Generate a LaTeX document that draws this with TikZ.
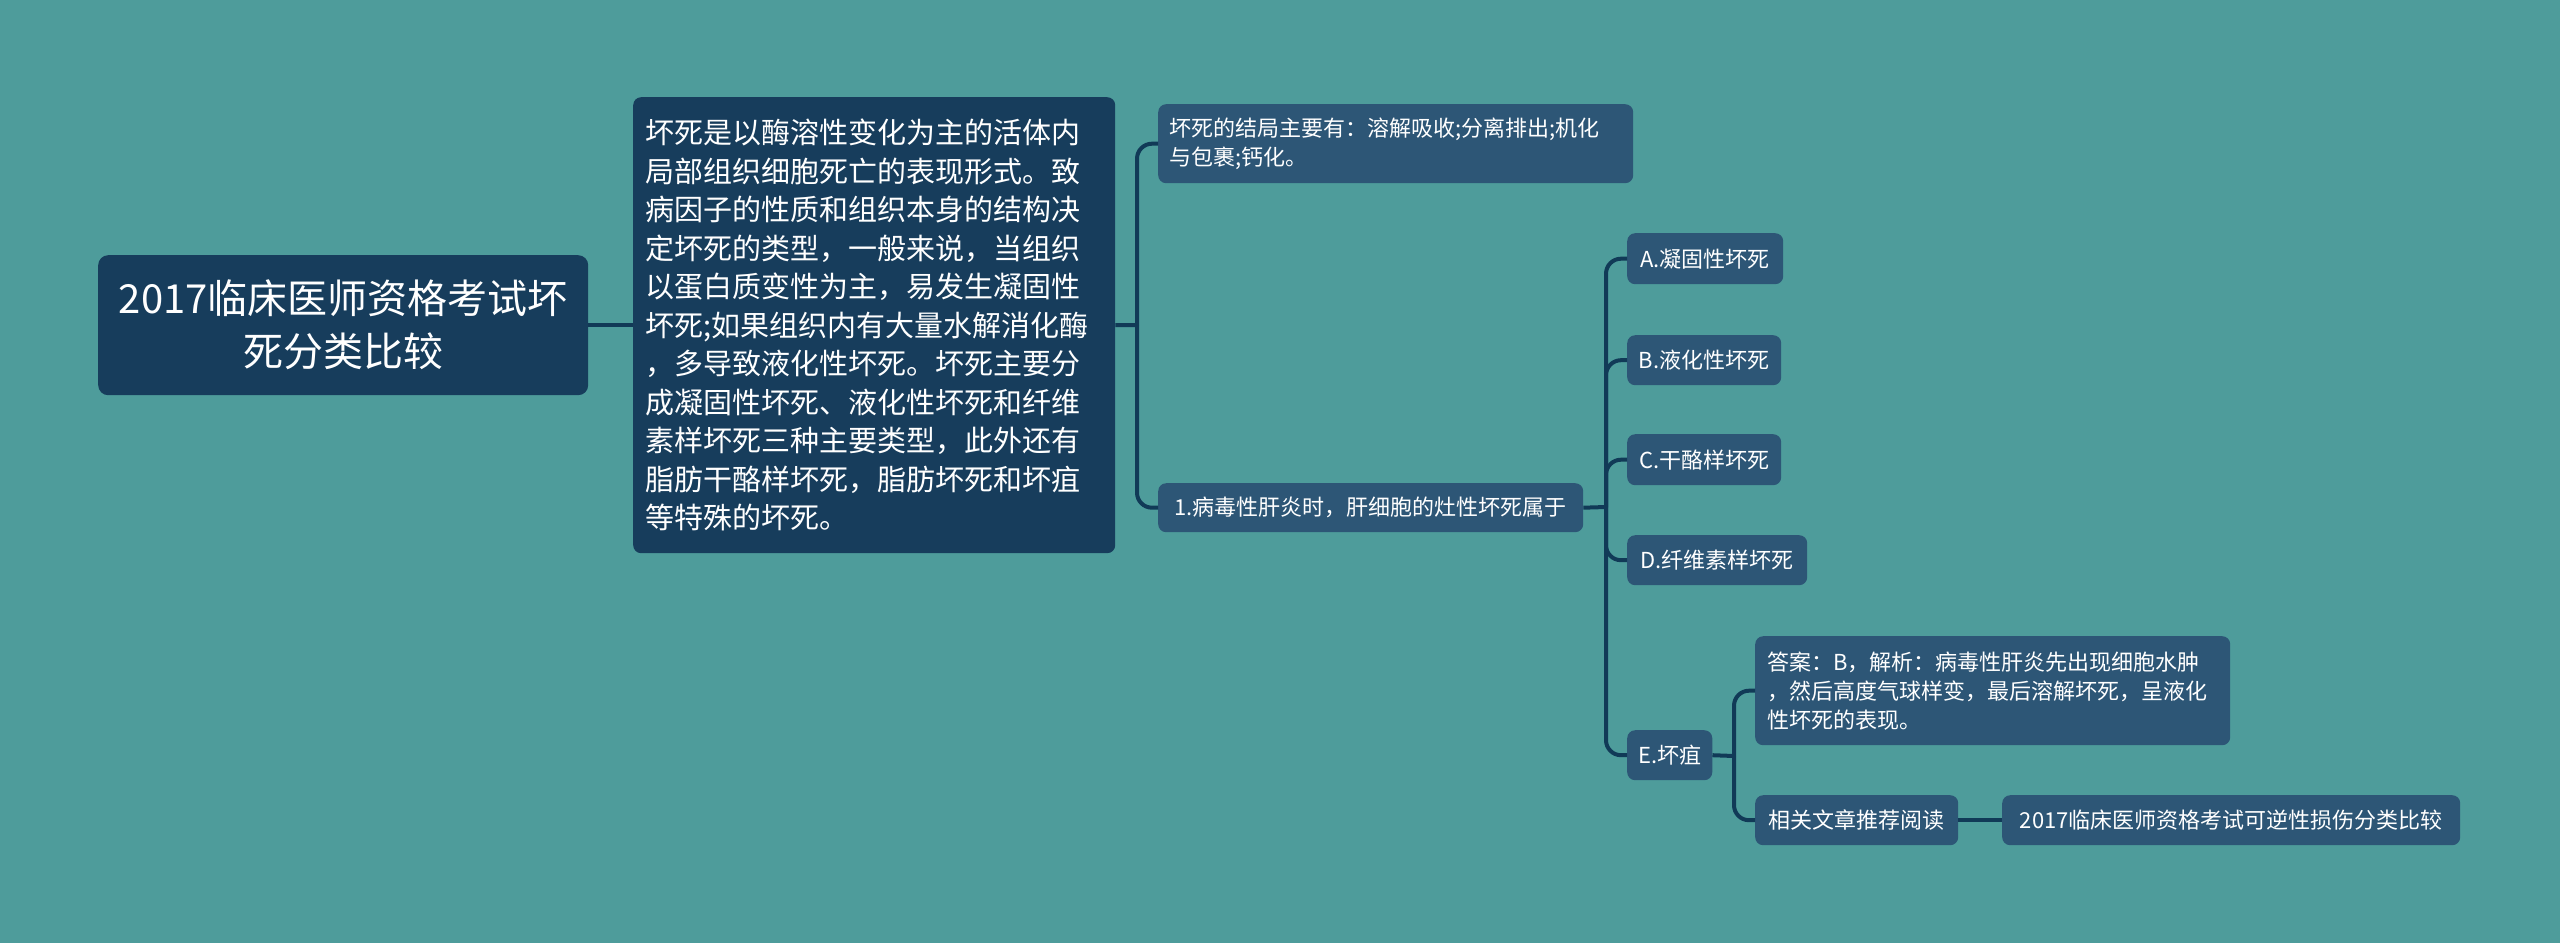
\documentclass[tikz,border=0pt]{standalone}
\usepackage{fontspec}
\newfontfamily\cjk{Noto Sans CJK SC}
\definecolor{bgc}{HTML}{4E9C9B}
\definecolor{darkc}{HTML}{173D5C}
\definecolor{midc}{HTML}{2D5676}
\definecolor{linec}{HTML}{113A57}
\tikzset{
  box/.style={anchor=north west, fill=midc, text=white, rounded corners=8pt, inner xsep=11pt, inner ysep=4pt,
    font=\cjk\fontsize{22}{29}\selectfont},
  bigbox/.style={box, fill=darkc},
  conn/.style={draw=linec, line width=4pt},
  elbow/.style={conn, rounded corners=15pt},
}
\begin{document}
\begin{tikzpicture}[x=1pt,y=-1pt]
\useasboundingbox[fill=bgc] (0,0) rectangle (2560,943);
% nodes
\node[bigbox, minimum width=490pt, minimum height=140pt, align=center, rounded corners=10pt,
  font=\cjk\fontsize{40}{53}\selectfont] (root) at (98,255) {2017临床医师资格考试坏\\死分类比较};
\node[bigbox, minimum width=482pt, minimum height=456pt, text width=458pt, align=left,
  font=\cjk\fontsize{29}{38.5}\selectfont] (main) at (633,97)
  {坏死是以酶溶性变化为主的活体内\\局部组织细胞死亡的表现形式。致\\病因子的性质和组织本身的结构决\\定坏死的类型，一般来说，当组织\\以蛋白质变性为主，易发生凝固性\\坏死;如果组织内有大量水解消化酶\\，多导致液化性坏死。坏死主要分\\成凝固性坏死、液化性坏死和纤维\\素样坏死三种主要类型，此外还有\\脂肪干酪样坏死，脂肪坏死和坏疽\\等特殊的坏死。};
\node[box, minimum width=475pt, minimum height=79pt, text width=453pt, align=left] (out) at (1158,104)
  {坏死的结局主要有：溶解吸收;分离排出;机化\\与包裹;钙化。};
\node[box, minimum width=425pt, minimum height=49pt] (q) at (1158,483) {1.病毒性肝炎时，肝细胞的灶性坏死属于};
\node[box, minimum width=156pt, minimum height=51pt] (a) at (1627,233) {A.凝固性坏死};
\node[box, minimum width=154pt, minimum height=50pt] (b) at (1627,335) {B.液化性坏死};
\node[box, minimum width=154pt, minimum height=51pt] (c) at (1627,434) {C.干酪样坏死};
\node[box, minimum width=180pt, minimum height=50pt] (d) at (1627,535) {D.纤维素样坏死};
\node[box, minimum width=84pt, minimum height=50pt] (e) at (1627,730) {E.坏疽};
\node[box, minimum width=475pt, minimum height=109pt, text width=451pt, align=left] (ans) at (1755,636)
  {答案：B，解析：病毒性肝炎先出现细胞水肿\\，然后高度气球样变，最后溶解坏死，呈液化\\性坏死的表现。};
\node[box, minimum width=203pt, minimum height=50pt] (rel) at (1755,795) {相关文章推荐阅读};
\node[box, minimum width=458pt, minimum height=50pt] (lnk) at (2002,795) {2017临床医师资格考试可逆性损伤分类比较};
% trunk coordinates
\coordinate (t1) at (1137,325);
\coordinate (t2) at (1606,507);
\coordinate (t3) at (1734,756);
% connectors
\draw[conn] (root.east) -- (main.west);
\draw[conn] (main.east) -- (t1);
\draw[elbow] (t1) |- (out.west);
\draw[elbow] (t1) |- (q.west);
\draw[conn] (q.east) -- (t2);
\draw[elbow] (t2) |- (a.west);
\draw[elbow] (t2) |- (b.west);
\draw[elbow] (t2) |- (c.west);
\draw[elbow] (t2) |- (d.west);
\draw[elbow] (t2) |- (e.west);
\draw[conn] (e.east) -- (t3);
\draw[elbow] (t3) |- (ans.west);
\draw[elbow] (t3) |- (rel.west);
\draw[conn] (rel.east) -- (lnk.west);
\end{tikzpicture}
\end{document}
